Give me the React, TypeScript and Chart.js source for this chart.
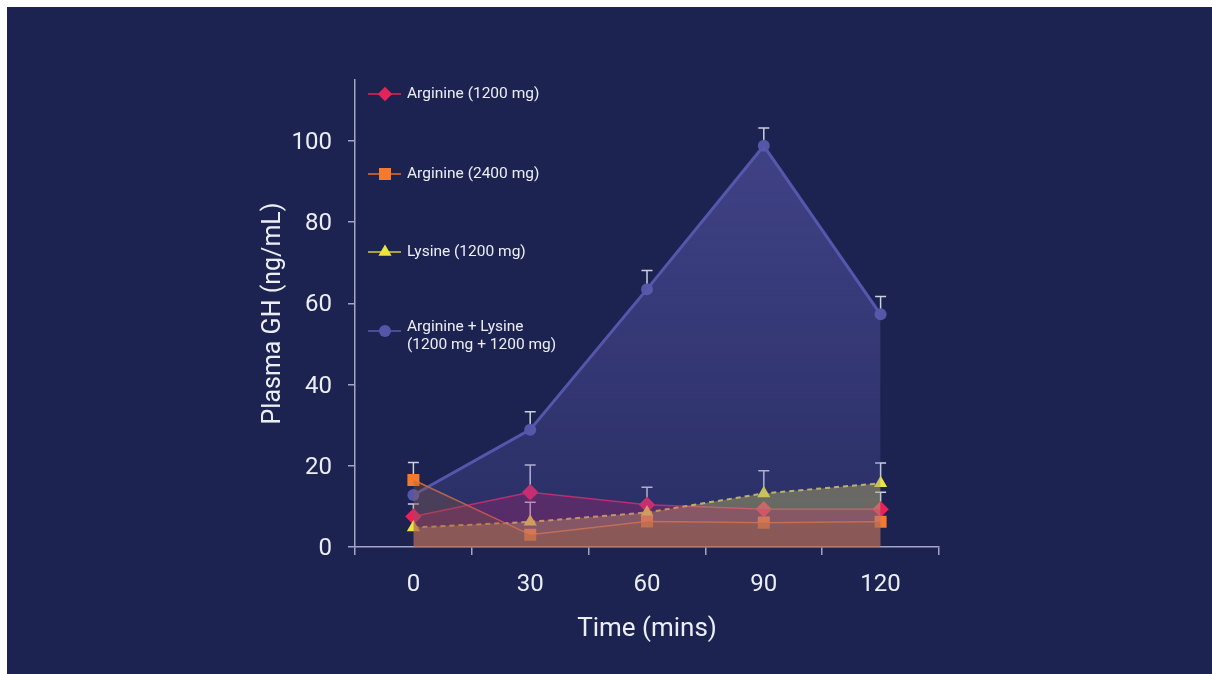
import React, { useEffect, useRef } from 'react';
import { Chart, registerables } from 'chart.js';

Chart.register(...registerables);

// ---- data ----
const timeLabels = ['0', '30', '60', '90', '120'];
const yTickValues = [0, 20, 40, 60, 80, 100];

const arg1200 = [7.5, 13.5, 10.4, 9.3, 9.3];
const arg1200Err = [3.1, 6.7, 4.3, null, 4.2];

const arg2400 = [16.5, 3.0, 6.3, 6.0, 6.2];
const arg2400Err = [4.3, null, null, null, null];

const lys1200 = [4.8, 6.2, 8.5, 13.2, 15.7];
const lys1200Err = [null, 4.8, null, 5.6, 5.0];

const argLys = [12.8, 28.9, 63.5, 98.8, 57.3];
const argLysErr = [null, 4.4, 4.6, 4.4, 4.4];

const legendLabels: string[][] = [
  ['Arginine (1200 mg)'],
  ['Arginine (2400 mg)'],
  ['Lysine (1200 mg)'],
  ['Arginine + Lysine', '(1200 mg + 1200 mg)'],
];

// ---- styles ----
const BG = '#1c2350';
const AXIS = '#a2a5c2';
const TEXT = '#eceef6';
const FONT = 'Roboto, "Noto Sans", sans-serif';

type Series = {
  data: number[];
  err: (number | null)[];
  style: string;
  radius: number;
  legendRadius: number;
  marker: string;
  line: string;
  legendLine: string;
  width: number;
  dash: number[];
  fill: string | null;
  lineOrder: number;
  fillOrder: number;
};

const series: Series[] = [
  { data: arg1200, err: arg1200Err, style: 'rectRot', radius: 8.2, legendRadius: 7.2, marker: '#e8215a', line: '#d42258', legendLine: '#b8204f', width: 1.5, dash: [], fill: 'rgba(225,35,110,0.24)', lineOrder: 12, fillOrder: 2 },
  { data: arg2400, err: arg2400Err, style: 'rect', radius: 8.5, legendRadius: 8.5, marker: '#f57a2b', line: '#e06a30', legendLine: '#b45a32', width: 1.5, dash: [], fill: 'rgba(150,92,55,0.30)', lineOrder: 10, fillOrder: 1 },
  { data: lys1200, err: lys1200Err, style: 'triangle', radius: 7.6, legendRadius: 7.6, marker: '#ece63a', line: '#d8cc52', legendLine: '#a8a23e', width: 2, dash: [5, 4], fill: 'rgba(205,198,95,0.38)', lineOrder: 11, fillOrder: 3 },
  { data: argLys, err: argLysErr, style: 'circle', radius: 6, legendRadius: 6, marker: '#5556a8', line: '#5356aa', legendLine: '#4a4c98', width: 3, dash: [], fill: null, lineOrder: 13, fillOrder: 4 },
];

function drawMarker(ctx: CanvasRenderingContext2D, style: string, x: number, y: number, r: number, color: string) {
  ctx.save();
  ctx.fillStyle = color;
  ctx.beginPath();
  if (style === 'rectRot') {
    ctx.moveTo(x - r, y);
    ctx.lineTo(x, y - r);
    ctx.lineTo(x + r, y);
    ctx.lineTo(x, y + r);
    ctx.closePath();
  } else if (style === 'rect') {
    const s = r * Math.SQRT1_2;
    ctx.rect(x - s, y - s, 2 * s, 2 * s);
  } else if (style === 'triangle') {
    ctx.moveTo(x, y - r);
    ctx.lineTo(x + r * 0.866, y + r * 0.5);
    ctx.lineTo(x - r * 0.866, y + r * 0.5);
    ctx.closePath();
  } else {
    ctx.arc(x, y, r, 0, Math.PI * 2);
  }
  ctx.fill();
  ctx.restore();
}

const errorBarPlugin = {
  id: 'errorBars',
  beforeDatasetsDraw(chart: any) {
    const { ctx, scales } = chart;
    const xs = scales.x;
    const ys = scales.y;
    ctx.save();
    ctx.strokeStyle = '#cfd0de';
    ctx.lineWidth = 1.5;
    series.forEach((s) => {
      s.err.forEach((e, i) => {
        if (e == null) return;
        const x = xs.getPixelForValue(i);
        const y0 = ys.getPixelForValue(s.data[i]);
        const y1 = ys.getPixelForValue(s.data[i] + e);
        ctx.beginPath();
        ctx.moveTo(x, y0);
        ctx.lineTo(x, y1);
        ctx.moveTo(x - 5.5, y1);
        ctx.lineTo(x + 5.5, y1);
        ctx.stroke();
      });
    });
    ctx.restore();
  },
};

const legendPlugin = {
  id: 'customLegend',
  afterDraw(chart: any) {
    const { ctx, chartArea } = chart;
    const left = chartArea.left;
    const top = chartArea.top;
    const rowY = [14, 94, 172, 251];
    ctx.save();
    ctx.font = `15.5px ${FONT}`;
    ctx.textBaseline = 'middle';
    ctx.textAlign = 'left';
    series.forEach((s, i) => {
      const y = top + rowY[i];
      ctx.strokeStyle = s.legendLine;
      ctx.lineWidth = 2;
      ctx.beginPath();
      ctx.moveTo(left + 13, y);
      ctx.lineTo(left + 46, y);
      ctx.stroke();
      drawMarker(ctx, s.style, left + 30, y, s.legendRadius, s.marker);
      const lines = legendLabels[i];
      ctx.fillStyle = TEXT;
      if (lines.length === 1) {
        ctx.fillText(lines[0], left + 52, y);
      } else {
        ctx.fillText(lines[0], left + 52, y - 4);
        ctx.fillText(lines[1], left + 52, y + 14);
      }
    });
    ctx.restore();
  },
};

export default function App() {
  const canvasRef = useRef<HTMLCanvasElement | null>(null);

  useEffect(() => {
    if (!canvasRef.current) return;

    const lineSets = series.map((s) => ({
      type: 'line' as const,
      data: s.data,
      borderColor: s.line,
      borderWidth: s.width,
      borderDash: s.dash,
      tension: 0,
      fill: false,
      pointStyle: s.style,
      pointRadius: s.radius,
      pointHoverRadius: s.radius,
      pointBackgroundColor: s.marker,
      pointBorderWidth: 0,
      order: s.lineOrder,
    }));

    const fillSets = series.map((s) => ({
      type: 'line' as const,
      data: s.data,
      borderWidth: 0,
      borderColor: 'rgba(0,0,0,0)',
      pointRadius: 0,
      tension: 0,
      fill: 'origin',
      backgroundColor:
        s.fill ??
        ((c: any) => {
          const chart = c.chart;
          const area = chart.chartArea;
          if (!area) return 'rgba(90,88,172,0.4)';
          const y = chart.scales.y;
          const g = chart.ctx.createLinearGradient(0, y.getPixelForValue(100), 0, y.getPixelForValue(0));
          g.addColorStop(0, 'rgba(92,90,176,0.56)');
          g.addColorStop(1, 'rgba(92,90,176,0.22)');
          return g;
        }),
      order: s.fillOrder,
    }));

    const chart = new Chart(canvasRef.current, {
      type: 'line',
      data: {
        labels: timeLabels,
        datasets: [...lineSets, ...fillSets] as any,
      },
      options: {
        animation: false,
        responsive: true,
        maintainAspectRatio: false,
        layout: { padding: { left: 248, top: 73, right: 273, bottom: 25 } },
        plugins: {
          legend: { display: false },
          tooltip: { enabled: false },
        },
        scales: {
          x: {
            type: 'category',
            offset: true,
            grid: {
              offset: true,
              drawOnChartArea: false,
              drawTicks: true,
              tickLength: 8,
              color: AXIS,
              lineWidth: 1.5,
            },
            border: { color: AXIS, width: 1.5 },
            ticks: { color: TEXT, font: { family: FONT, size: 24 }, padding: 16 },
            title: {
              display: true,
              text: 'Time (mins)',
              color: TEXT,
              font: { family: FONT, size: 26 },
              padding: { top: 4, bottom: 4 },
            },
            afterFit: (s: any) => {
              s.height = 102;
            },
          },
          y: {
            type: 'linear',
            min: 0,
            max: 115,
            grid: {
              drawOnChartArea: false,
              drawTicks: true,
              tickLength: 7,
              color: AXIS,
              lineWidth: 1.5,
            },
            border: { color: AXIS, width: 1.5 },
            ticks: { color: TEXT, font: { family: FONT, size: 24 }, padding: 16, stepSize: 20, labelOffset: 2 },
            afterBuildTicks: (s: any) => {
              s.ticks = yTickValues.map((v) => ({ value: v }));
            },
            title: {
              display: true,
              text: 'Plasma GH (ng/mL)',
              color: TEXT,
              font: { family: FONT, size: 25 },
              padding: { top: 4, bottom: 4 },
            },
            afterFit: (s: any) => {
              s.width = 100;
            },
          },
        },
      } as any,
      plugins: [errorBarPlugin, legendPlugin],
    });

    return () => chart.destroy();
  }, []);

  return (
    <div
      style={{
        position: 'fixed',
        left: 7,
        top: 7,
        width: 1205,
        height: 667,
        background: BG,
      }}
    >
      <canvas ref={canvasRef} />
    </div>
  );
}
